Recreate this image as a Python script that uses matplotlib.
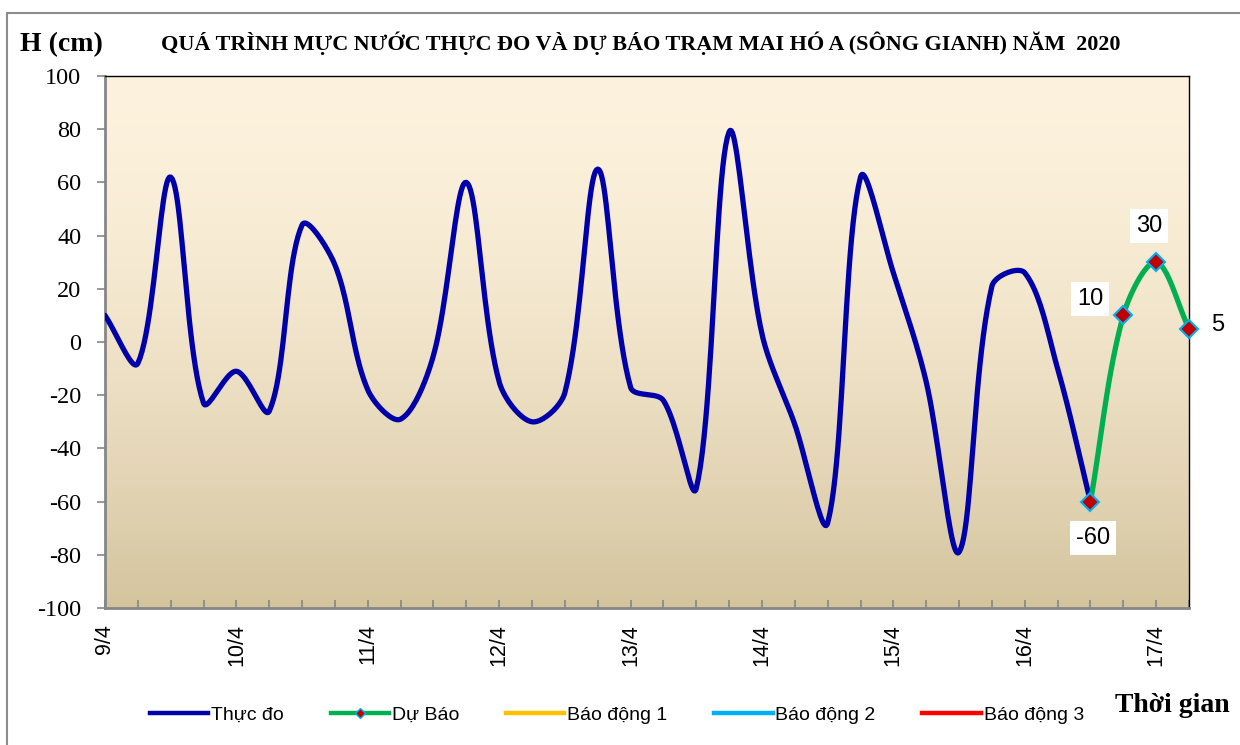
import numpy as np
import matplotlib.pyplot as plt
from matplotlib.lines import Line2D
from matplotlib.patches import Rectangle

plt.rcParams['axes.unicode_minus'] = False

# water level (cm), one value every 6 hours
thuc_do = [10, -8, 62, -23, -11, -26, 44, 29, -18, -29, -5, 60, -15, -30, -19, 65,
           -17, -22, -55, 79, 3, -31, -68, 62, 26, -15, -79, 21, 26, -10, -60]
du_bao = [-60, 10, 30, 5]
day_labels = ['9/4', '10/4', '11/4', '12/4', '13/4', '14/4', '15/4', '16/4', '17/4']

YSCALE = 2.66 / 32.85  # pixel ratio y/x, so the smoothing looks like excel


def smooth(y, x0=0, n=24):
    # excel style smoothed line: bezier through each point, tangents scaled by segment length
    y = np.asarray(y, dtype=float)
    x = np.arange(len(y)) + x0
    p = np.column_stack([x, y * YSCALE])
    m = len(p)
    fwd, back = [], []
    for i in range(m):
        a = p[i - 1] if i > 0 else p[i]
        b = p[i + 1] if i < m - 1 else p[i]
        t = b - a
        lb = np.linalg.norm(p[i] - a)
        lf = np.linalg.norm(b - p[i])
        tot = lb + lf if lb + lf > 0 else 1
        fwd.append(p[i] + t / 6 * (2 * lf / tot) if i > 0 else p[i] + t / 3)
        back.append(p[i] - t / 6 * (2 * lb / tot) if i < m - 1 else p[i] - t / 3)
    pts = [p[0]]
    s = np.linspace(0, 1, n)[1:, None]
    for i in range(m - 1):
        b0, b1, b2, b3 = p[i], fwd[i], back[i + 1], p[i + 1]
        seg = (1 - s) ** 3 * b0 + 3 * (1 - s) ** 2 * s * b1 + 3 * (1 - s) * s ** 2 * b2 + s ** 3 * b3
        pts.extend(seg)
    pts = np.array(pts)
    return pts[:, 0], pts[:, 1] / YSCALE


fig = plt.figure(figsize=(12.4, 7.45), dpi=100)
fig.patches.append(Rectangle((7 / 1240, -0.1), 1.2, 1 - 13 / 745 + 0.1, transform=fig.transFigure,
                             fill=False, edgecolor='#8c8c8c', linewidth=1.5))
ax = fig.add_axes([105 / 1240, 1 - 608 / 745, 1084 / 1240, 532 / 745])

n_pts = len(thuc_do) + len(du_bao) - 1
xmax = n_pts - 1

# background gradient
grad = np.linspace(0, 1, 256)[:, None] ** 1.6
top = np.array([253, 242, 221]) / 255
bot = np.array([212, 196, 158]) / 255
img = top + (bot - top) * grad[:, :, None]
ax.imshow(img, extent=[0, xmax, -100, 100], aspect='auto', zorder=0)

xs, ys = smooth(thuc_do)
ax.plot(xs, ys, color='#0000AA', linewidth=3.8, solid_capstyle='round', zorder=3)
x0 = len(thuc_do) - 1
xs2, ys2 = smooth(du_bao, x0=x0)
ax.plot(xs2, ys2, color='#00B050', linewidth=3.8, solid_capstyle='round', zorder=4)
xb = np.arange(len(du_bao)) + x0
ax.plot(xb, du_bao, linestyle='none', marker='D', markersize=9, markerfacecolor='#C00000',
        markeredgecolor='#00B0F0', markeredgewidth=1.5, zorder=5, clip_on=False)

# data labels
offsets = [(2, -26), (-24, 12), (-5, 26), (21, 3)]
for xi, v, off in zip(xb, du_bao, offsets):
    ax.annotate(str(v), (xi, v), xytext=off, textcoords='offset points', ha='center', va='center',
                fontsize=17, family='Liberation Sans', zorder=6, annotation_clip=False,
                bbox=dict(boxstyle='square,pad=0.25', facecolor='white', edgecolor='none'))

ax.set_xlim(0, xmax)
ax.set_ylim(-100, 100)
ax.set_yticks(range(-100, 101, 20))
ax.set_xticks(range(0, xmax + 1))
ax.set_xticklabels([day_labels[i // 4] if i % 4 == 0 else '' for i in range(xmax + 1)],
                   rotation=90, fontsize=15.5, family='Liberation Sans')
for lab in ax.get_yticklabels():
    lab.set_family('Liberation Serif')
    lab.set_fontsize(17.5)
ax.tick_params(axis='x', direction='in', length=6, color='#868686', width=1.2, pad=11.5)
ax.tick_params(axis='y', direction='out', length=6, color='#868686', width=1.2, pad=11)
for s in ['left', 'bottom']:
    ax.spines[s].set_color('#868686')
    ax.spines[s].set_linewidth(2)
for s in ['top', 'right']:
    ax.spines[s].set_color('black')
    ax.spines[s].set_linewidth(1)

fig.text(641 / 1240, 1 - 43 / 745,
         'QUÁ TRÌNH MỰC NƯỚC THỰC ĐO VÀ DỰ BÁO TRẠM MAI HÓ A (SÔNG GIANH) NĂM  2020',
         ha='center', va='center', fontsize=15.9, fontweight='bold', family='Liberation Serif')
fig.text(20 / 1240, 1 - 45 / 745, 'H (cm)', ha='left', va='center', fontsize=20,
         fontweight='bold', family='Liberation Serif')
fig.text(1230 / 1240, 1 - 705 / 745, 'Thời gian', ha='right', va='center', fontsize=20,
         fontweight='bold', family='Liberation Serif')

handles = [
    Line2D([], [], color='#0000AA', linewidth=3.2),
    Line2D([], [], color='#00B050', linewidth=3.2, marker='D', markersize=5,
           markerfacecolor='#C00000', markeredgecolor='#00B0F0'),
    Line2D([], [], color='#FFC000', linewidth=3.2),
    Line2D([], [], color='#00B0F0', linewidth=3.2),
    Line2D([], [], color='#FF0000', linewidth=3.2),
]
names = ['Thực đo', 'Dự Báo', 'Báo động 1', 'Báo động 2', 'Báo động 3']
fig.legend(handles, names, loc='center', bbox_to_anchor=(617 / 1240, 1 - 715 / 745), ncol=5,
           frameon=False, handlelength=3.0, handletextpad=0.15, columnspacing=2.4,
           prop={'family': 'Liberation Sans', 'size': 14})

fig.savefig('out.png', dpi=100)
